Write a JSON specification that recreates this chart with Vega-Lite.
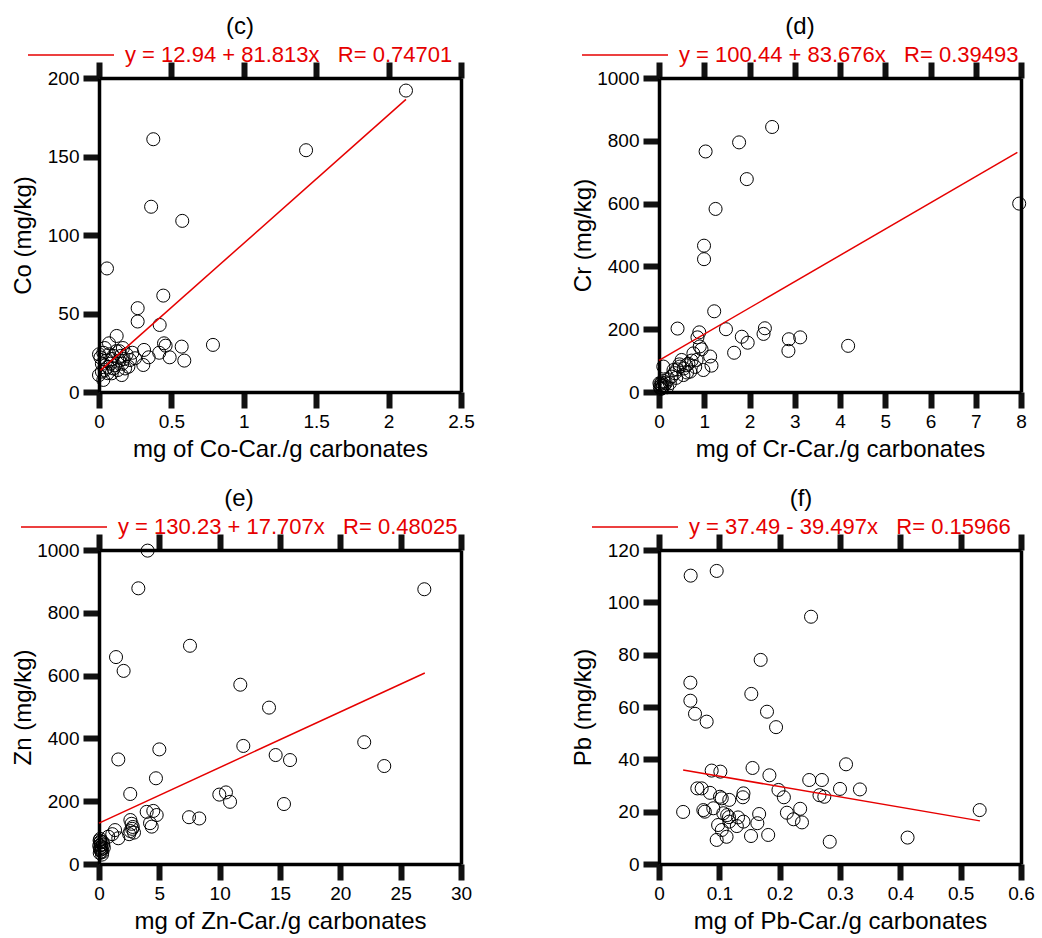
{
  "$schema": "https://vega.github.io/schema/vega-lite/v6.json",
  "padding": {"left": 11, "top": 15, "right": 5, "bottom": 5},
  "background": "white",
  "columns": 2,
  "spacing": {"row": 158, "column": 198},
  "bounds": "flush",
  "datasets": {
    "c": [
      {"x": 2.12, "y": 192}, {"x": 1.43, "y": 154}, {"x": 0.375, "y": 161}, {"x": 0.36, "y": 118}, {"x": 0.575, "y": 109},
      {"x": 0.055, "y": 78.7}, {"x": 0.444, "y": 61.4}, {"x": 0.267, "y": 53.4}, {"x": 0.267, "y": 44.9}, {"x": 0.419, "y": 42.7},
      {"x": 0.787, "y": 30}, {"x": 0.571, "y": 28.9}, {"x": 0.589, "y": 20}, {"x": 0.449, "y": 31}, {"x": 0.46, "y": 29.5},
      {"x": 0.488, "y": 22.1}, {"x": 0.416, "y": 25}, {"x": 0.311, "y": 26.8}, {"x": 0.343, "y": 22.1}, {"x": 0.306, "y": 17.2},
      {"x": 0.122, "y": 35.7}, {"x": 0.069, "y": 31}, {"x": 0.249, "y": 21.5}, {"x": 0.214, "y": 20.4}, {"x": 0.203, "y": 16.1},
      {"x": 0.157, "y": 10.8}, {"x": 0.03, "y": 7.7}, {"x": 0.0, "y": 10.8}, {"x": 0.088, "y": 11.9}, {"x": 0.01, "y": 22},
      {"x": 0.02, "y": 18}, {"x": 0.03, "y": 25}, {"x": 0.04, "y": 14}, {"x": 0.05, "y": 20}, {"x": 0.06, "y": 16},
      {"x": 0.07, "y": 24}, {"x": 0.08, "y": 18}, {"x": 0.09, "y": 21}, {"x": 0.1, "y": 23}, {"x": 0.11, "y": 17},
      {"x": 0.12, "y": 26}, {"x": 0.13, "y": 14}, {"x": 0.14, "y": 20}, {"x": 0.15, "y": 23}, {"x": 0.16, "y": 18},
      {"x": 0.17, "y": 21}, {"x": 0.18, "y": 15}, {"x": 0.19, "y": 24}, {"x": 0.04, "y": 28}, {"x": 0.0, "y": 24},
      {"x": 0.02, "y": 13}, {"x": 0.06, "y": 12}, {"x": 0.1, "y": 15}, {"x": 0.14, "y": 26}, {"x": 0.23, "y": 25}, {"x": 0.165, "y": 28}
    ],
    "d": [
      {"x": 7.96, "y": 600}, {"x": 2.5, "y": 844}, {"x": 1.77, "y": 795}, {"x": 1.03, "y": 766}, {"x": 1.94, "y": 678},
      {"x": 1.25, "y": 583}, {"x": 0.995, "y": 466}, {"x": 0.995, "y": 423}, {"x": 1.22, "y": 257}, {"x": 0.41, "y": 202},
      {"x": 1.48, "y": 200}, {"x": 2.34, "y": 203}, {"x": 2.31, "y": 185}, {"x": 1.83, "y": 176}, {"x": 1.96, "y": 157},
      {"x": 1.66, "y": 125}, {"x": 2.87, "y": 168}, {"x": 2.86, "y": 131}, {"x": 3.12, "y": 174}, {"x": 4.18, "y": 147},
      {"x": 0.89, "y": 190}, {"x": 0.85, "y": 174}, {"x": 0.9, "y": 145}, {"x": 0.94, "y": 136}, {"x": 1.13, "y": 113},
      {"x": 1.16, "y": 84}, {"x": 0.76, "y": 123}, {"x": 0.83, "y": 102}, {"x": 0.5, "y": 102}, {"x": 0.46, "y": 81},
      {"x": 0.095, "y": 81}, {"x": 0.98, "y": 70}, {"x": 0.69, "y": 65}, {"x": 0.32, "y": 70}, {"x": 0.28, "y": 49},
      {"x": 0.54, "y": 54}, {"x": 0.24, "y": 28}, {"x": 0.02, "y": 15}, {"x": 0.03, "y": 25}, {"x": 0.05, "y": 20},
      {"x": 0.06, "y": 30}, {"x": 0.08, "y": 18}, {"x": 0.1, "y": 35}, {"x": 0.12, "y": 22}, {"x": 0.15, "y": 28},
      {"x": 0.2, "y": 40}, {"x": 0.35, "y": 60}, {"x": 0.4, "y": 72}, {"x": 0.45, "y": 88}, {"x": 0.55, "y": 75},
      {"x": 0.6, "y": 85}, {"x": 0.65, "y": 90}, {"x": 0.72, "y": 100}, {"x": 0.8, "y": 80}, {"x": 0.04, "y": 10},
      {"x": 0.18, "y": 15}, {"x": 0.01, "y": 28}, {"x": 0.07, "y": 12}, {"x": 0.62, "y": 62}, {"x": 0.38, "y": 45}
    ],
    "e": [
      {"x": 4.03, "y": 998}, {"x": 3.26, "y": 878}, {"x": 26.96, "y": 875}, {"x": 7.54, "y": 695}, {"x": 1.41, "y": 659},
      {"x": 2.04, "y": 615}, {"x": 11.71, "y": 571}, {"x": 14.09, "y": 498}, {"x": 5.0, "y": 365}, {"x": 1.6, "y": 333},
      {"x": 11.96, "y": 376}, {"x": 14.64, "y": 347}, {"x": 15.83, "y": 331}, {"x": 21.98, "y": 388}, {"x": 23.64, "y": 312},
      {"x": 4.72, "y": 273}, {"x": 2.59, "y": 223}, {"x": 9.97, "y": 221}, {"x": 10.52, "y": 228}, {"x": 10.86, "y": 198},
      {"x": 15.33, "y": 191}, {"x": 7.46, "y": 149}, {"x": 8.31, "y": 145}, {"x": 3.95, "y": 166}, {"x": 4.5, "y": 169},
      {"x": 4.78, "y": 156}, {"x": 4.23, "y": 130}, {"x": 4.37, "y": 119}, {"x": 2.6, "y": 140}, {"x": 2.7, "y": 128},
      {"x": 2.8, "y": 118}, {"x": 2.6, "y": 105}, {"x": 2.9, "y": 100}, {"x": 2.5, "y": 95}, {"x": 2.75, "y": 112},
      {"x": 1.33, "y": 108}, {"x": 1.6, "y": 82}, {"x": 0.77, "y": 87}, {"x": 1.1, "y": 95}, {"x": 0.05, "y": 75},
      {"x": 0.1, "y": 68}, {"x": 0.15, "y": 60}, {"x": 0.2, "y": 55}, {"x": 0.08, "y": 50}, {"x": 0.12, "y": 45},
      {"x": 0.18, "y": 40}, {"x": 0.06, "y": 35}, {"x": 0.25, "y": 30}, {"x": 0.3, "y": 70}, {"x": 0.35, "y": 62},
      {"x": 0.1, "y": 80}, {"x": 0.22, "y": 48}, {"x": 0.4, "y": 52}, {"x": 0.02, "y": 58}, {"x": 0.28, "y": 38}, {"x": 0.14, "y": 72}
    ],
    "f": [
      {"x": 0.0525, "y": 110.2}, {"x": 0.0956, "y": 112}, {"x": 0.252, "y": 94.5}, {"x": 0.1685, "y": 78}, {"x": 0.052, "y": 69.3},
      {"x": 0.153, "y": 65}, {"x": 0.052, "y": 62.4}, {"x": 0.0597, "y": 57.4}, {"x": 0.179, "y": 58.2}, {"x": 0.079, "y": 54.4},
      {"x": 0.194, "y": 52.3}, {"x": 0.31, "y": 38.1}, {"x": 0.155, "y": 36.7}, {"x": 0.0873, "y": 35.7}, {"x": 0.1017, "y": 35.3},
      {"x": 0.183, "y": 33.9}, {"x": 0.249, "y": 32.1}, {"x": 0.27, "y": 32.1}, {"x": 0.3, "y": 28.7}, {"x": 0.333, "y": 28.5},
      {"x": 0.5315, "y": 20.6}, {"x": 0.412, "y": 10.1}, {"x": 0.283, "y": 8.5}, {"x": 0.04, "y": 19.9}, {"x": 0.198, "y": 28.3},
      {"x": 0.207, "y": 25.5}, {"x": 0.266, "y": 26.3}, {"x": 0.274, "y": 25.7}, {"x": 0.234, "y": 21.1}, {"x": 0.212, "y": 19.6},
      {"x": 0.223, "y": 17.1}, {"x": 0.237, "y": 15.9}, {"x": 0.181, "y": 11.1}, {"x": 0.1525, "y": 10.7}, {"x": 0.166, "y": 19.1},
      {"x": 0.163, "y": 15.6}, {"x": 0.14, "y": 27}, {"x": 0.139, "y": 25.5}, {"x": 0.0635, "y": 28.9}, {"x": 0.0707, "y": 28.9},
      {"x": 0.0845, "y": 27.2}, {"x": 0.101, "y": 25.7}, {"x": 0.104, "y": 25.1}, {"x": 0.1165, "y": 24.5}, {"x": 0.0735, "y": 20.6},
      {"x": 0.076, "y": 20}, {"x": 0.09, "y": 21.3}, {"x": 0.1066, "y": 19.4}, {"x": 0.113, "y": 18.7}, {"x": 0.116, "y": 17.9},
      {"x": 0.098, "y": 14.9}, {"x": 0.104, "y": 13}, {"x": 0.112, "y": 10.4}, {"x": 0.0956, "y": 9.2}, {"x": 0.131, "y": 17.8},
      {"x": 0.129, "y": 14.5}, {"x": 0.14, "y": 16.2}, {"x": 0.1165, "y": 16.2}
    ],
    "lc": [
      {"x": 0.01, "y": 13.76, "eq": "y = 12.94 + 81.813x\u00a0\u00a0\u00a0R= 0.74701"},
      {"x": 2.12, "y": 186.38, "eq": "y = 12.94 + 81.813x\u00a0\u00a0\u00a0R= 0.74701"}
    ],
    "ld": [
      {"x": 0.0, "y": 100.44, "eq": "y = 100.44 + 83.676x\u00a0\u00a0\u00a0R= 0.39493"},
      {"x": 7.92, "y": 763.15, "eq": "y = 100.44 + 83.676x\u00a0\u00a0\u00a0R= 0.39493"}
    ],
    "le": [
      {"x": 0.0, "y": 130.23, "eq": "y = 130.23 + 17.707x\u00a0\u00a0\u00a0R= 0.48025"},
      {"x": 27.0, "y": 608.32, "eq": "y = 130.23 + 17.707x\u00a0\u00a0\u00a0R= 0.48025"}
    ],
    "lf": [
      {"x": 0.04, "y": 35.91, "eq": "y = 37.49 - 39.497x\u00a0\u00a0\u00a0R= 0.15966"},
      {"x": 0.532, "y": 16.48, "eq": "y = 37.49 - 39.497x\u00a0\u00a0\u00a0R= 0.15966"}
    ]
  },
  "concat": [
    {
      "width": 362, "height": 314,
      "resolve": {"axis": {"x": "independent", "y": "independent"}},
      "layer": [
        {
          "data": {"name": "c"},
          "mark": {"type": "point", "shape": "circle", "filled": false, "color": "black", "strokeWidth": 1, "size": 170, "opacity": 1},
          "encoding": {
            "x": {"field": "x", "type": "quantitative", "scale": {"domain": [0, 2.5], "nice": false}, "axis": {"orient": "bottom", "values": [0, 0.5, 1, 1.5, 2, 2.5], "title": "mg of Co-Car./g carbonates", "tickColor": "#111111", "tickWidth": 6}},
            "y": {"field": "y", "type": "quantitative", "scale": {"domain": [0, 200], "nice": false}, "axis": {"orient": "left", "values": [0, 50, 100, 150, 200], "title": "Co (mg/kg)", "tickColor": "#111111", "tickWidth": 6}}
          }
        },
        {
          "data": {"name": "lc"},
          "mark": {"type": "line", "strokeWidth": 1.5},
          "encoding": {
            "x": {"field": "x", "type": "quantitative", "axis": {"orient": "top", "values": [0, 0.5, 1, 1.5, 2, 2.5], "labels": false, "title": null, "tickColor": "#111111", "tickWidth": 6}},
            "y": {"field": "y", "type": "quantitative", "axis": {"orient": "right", "values": [0, 200], "labels": false, "ticks": false, "title": null}},
            "stroke": {"field": "eq", "type": "nominal", "scale": {"range": ["#e60000"]},
              "legend": {"orient": "none", "legendX": -72, "legendY": -63, "title": "(c)"}}
          }
        }
      ]
    },
    {
      "width": 362, "height": 314,
      "resolve": {"axis": {"x": "independent", "y": "independent"}},
      "layer": [
        {
          "data": {"name": "d"},
          "mark": {"type": "point", "shape": "circle", "filled": false, "color": "black", "strokeWidth": 1, "size": 170, "opacity": 1},
          "encoding": {
            "x": {"field": "x", "type": "quantitative", "scale": {"domain": [0, 8], "nice": false}, "axis": {"orient": "bottom", "values": [0, 1, 2, 3, 4, 5, 6, 7, 8], "title": "mg of Cr-Car./g carbonates", "tickColor": "#111111", "tickWidth": 6}},
            "y": {"field": "y", "type": "quantitative", "scale": {"domain": [0, 1000], "nice": false}, "axis": {"orient": "left", "values": [0, 200, 400, 600, 800, 1000], "title": "Cr (mg/kg)", "tickColor": "#111111", "tickWidth": 6}}
          }
        },
        {
          "data": {"name": "ld"},
          "mark": {"type": "line", "strokeWidth": 1.5},
          "encoding": {
            "x": {"field": "x", "type": "quantitative", "axis": {"orient": "top", "values": [0, 1, 2, 3, 4, 5, 6, 7, 8], "labels": false, "title": null, "tickColor": "#111111", "tickWidth": 6}},
            "y": {"field": "y", "type": "quantitative", "axis": {"orient": "right", "values": [0, 1000], "labels": false, "ticks": false, "title": null}},
            "stroke": {"field": "eq", "type": "nominal", "scale": {"range": ["#e60000"]},
              "legend": {"orient": "none", "legendX": -78, "legendY": -63, "title": "(d)"}}
          }
        }
      ]
    },
    {
      "width": 362, "height": 314,
      "resolve": {"axis": {"x": "independent", "y": "independent"}},
      "layer": [
        {
          "data": {"name": "e"},
          "mark": {"type": "point", "shape": "circle", "filled": false, "color": "black", "strokeWidth": 1, "size": 170, "opacity": 1},
          "encoding": {
            "x": {"field": "x", "type": "quantitative", "scale": {"domain": [0, 30], "nice": false}, "axis": {"orient": "bottom", "values": [0, 5, 10, 15, 20, 25, 30], "title": "mg of Zn-Car./g carbonates", "tickColor": "#111111", "tickWidth": 6}},
            "y": {"field": "y", "type": "quantitative", "scale": {"domain": [0, 1000], "nice": false}, "axis": {"orient": "left", "values": [0, 200, 400, 600, 800, 1000], "title": "Zn (mg/kg)", "tickColor": "#111111", "tickWidth": 6}}
          }
        },
        {
          "data": {"name": "le"},
          "mark": {"type": "line", "strokeWidth": 1.5},
          "encoding": {
            "x": {"field": "x", "type": "quantitative", "axis": {"orient": "top", "values": [0, 5, 10, 15, 20, 25, 30], "labels": false, "title": null, "tickColor": "#111111", "tickWidth": 6}},
            "y": {"field": "y", "type": "quantitative", "axis": {"orient": "right", "values": [0, 1000], "labels": false, "ticks": false, "title": null}},
            "stroke": {"field": "eq", "type": "nominal", "scale": {"range": ["#e60000"]},
              "legend": {"orient": "none", "legendX": -79, "legendY": -63, "title": "(e)"}}
          }
        }
      ]
    },
    {
      "width": 362, "height": 314,
      "resolve": {"axis": {"x": "independent", "y": "independent"}},
      "layer": [
        {
          "data": {"name": "f"},
          "mark": {"type": "point", "shape": "circle", "filled": false, "color": "black", "strokeWidth": 1, "size": 170, "opacity": 1},
          "encoding": {
            "x": {"field": "x", "type": "quantitative", "scale": {"domain": [0, 0.6], "nice": false}, "axis": {"orient": "bottom", "values": [0, 0.1, 0.2, 0.3, 0.4, 0.5, 0.6], "title": "mg of Pb-Car./g carbonates", "tickColor": "#111111", "tickWidth": 6}},
            "y": {"field": "y", "type": "quantitative", "scale": {"domain": [0, 120], "nice": false}, "axis": {"orient": "left", "values": [0, 20, 40, 60, 80, 100, 120], "title": "Pb (mg/kg)", "tickColor": "#111111", "tickWidth": 6}}
          }
        },
        {
          "data": {"name": "lf"},
          "mark": {"type": "line", "strokeWidth": 1.5},
          "encoding": {
            "x": {"field": "x", "type": "quantitative", "axis": {"orient": "top", "values": [0, 0.1, 0.2, 0.3, 0.4, 0.5, 0.6], "labels": false, "title": null, "tickColor": "#111111", "tickWidth": 6}},
            "y": {"field": "y", "type": "quantitative", "axis": {"orient": "right", "values": [0, 120], "labels": false, "ticks": false, "title": null}},
            "stroke": {"field": "eq", "type": "nominal", "scale": {"range": ["#e60000"]},
              "legend": {"orient": "none", "legendX": -68, "legendY": -63, "title": "(f)"}}
          }
        }
      ]
    }
  ],
  "resolve": {"scale": {"stroke": "independent"}, "legend": {"stroke": "independent"}},
  "config": {
    "font": "Liberation Sans",
    "view": {"stroke": null},
    "axis": {
      "grid": false,
      "format": ".6~g",
      "domainColor": "#000000", "domainWidth": 3.5,
      "tickSize": 16,
      "labelFont": "Liberation Sans", "labelFontSize": 19, "labelColor": "black", "labelPadding": 4,
      "labelFlush": false,
      "titleFont": "Liberation Sans", "titleFontSize": 24, "titleFontWeight": "normal", "titleColor": "black"
    },
    "axisBottom": {"titlePadding": 6},
    "axisLeft": {"titleX": -69, "titleY": 157, "titleAngle": 270, "titleBaseline": "alphabetic", "titleAlign": "center"},
    "legend": {
      "padding": 0,
      "titleFont": "Liberation Sans", "titleFontSize": 24, "titleFontWeight": "normal", "titleColor": "black",
      "titleAnchor": "middle", "titlePadding": 5,
      "symbolType": "stroke", "symbolSize": 7396, "symbolStrokeWidth": 1.5,
      "labelFont": "Liberation Sans", "labelFontSize": 22, "labelColor": "#e60000", "labelLimit": 600, "labelOffset": 10,
      "clipHeight": 22
    }
  }
}
